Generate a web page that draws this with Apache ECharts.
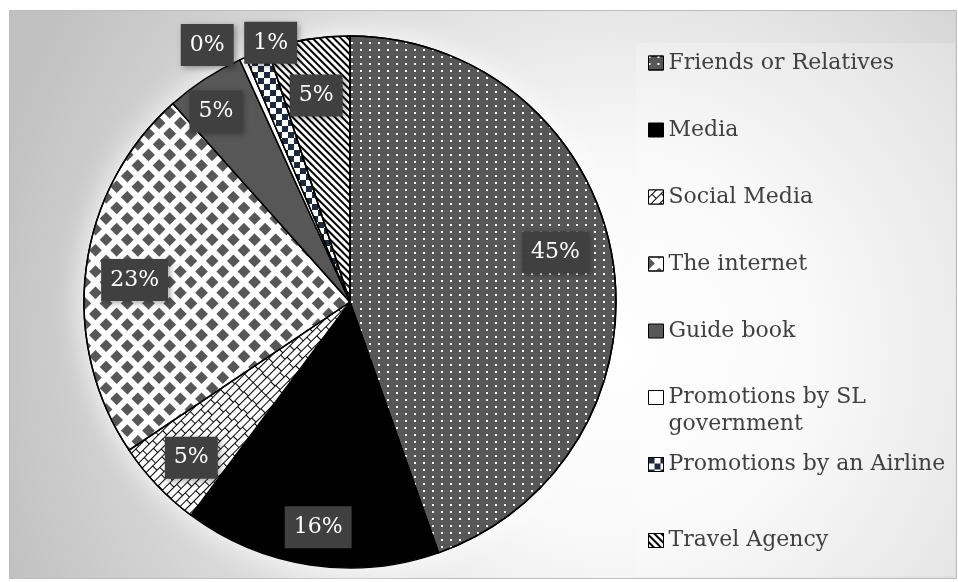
<!DOCTYPE html>
<html>
<head>
<meta charset="utf-8">
<script src="https://cdn.jsdelivr.net/npm/echarts@6/dist/echarts.min.js"></script>
<style>
  html, body { margin: 0; padding: 0; background: #ffffff; }
  #chart { width: 958px; height: 582px; }
</style>
</head>
<body>
<div id="chart"></div>
<script>
// Where visitors first heard about the destination (share of respondents, %)
const categories = [
  'Friends or Relatives',
  'Media',
  'Social Media',
  'The internet',
  'Guide book',
  'Promotions by SL government',
  'Promotions by an Airline',
  'Travel Agency'
];
const shares = [44.6, 15.6, 5.4, 22.8, 4.8, 0.4, 1.4, 5.0];

// ---- layout ----
const CX = 350, CY = 302, R = 266;
const FONT = '"DejaVu Serif", "Liberation Serif", serif';

// label placement per slice: [angle shift from slice middle (deg), distance as fraction of radius]
const labelPlace = [
  [-3.9, 0.795], [-0.6, 0.855], [-0.9, 0.836], [-1.4, 0.814],
  [-2.0, 0.876], [-5.3, 1.105], [3.5, 1.019], [-0.3, 0.787]
];

// hatch / dot patterns for the black-and-white print look
const sliceStyles = [
  { color: '#575757', decal: { symbol: 'rect', color: '#ffffff', symbolSize: 1,
      dashArrayX: [1.6, 6.4], dashArrayY: [2, 4.5] } },
  { color: '#000000' },
  { color: '#000000', decal: { symbol: 'rect', color: '#ffffff', symbolSize: 1,
      dashArrayX: [[12, 1], [5.5, 1, 6.5, 0]], dashArrayY: [5, 1], rotation: -Math.PI / 4 } },
  { color: '#ffffff', decal: { symbol: 'rect', color: '#575757', symbolSize: 1,
      dashArrayX: [9, 6], dashArrayY: [9, 6], rotation: Math.PI / 4 } },
  { color: '#575757' },
  { color: '#ffffff' },
  { color: '#1d2a3c', decal: { symbol: 'rect', color: '#ffffff', symbolSize: 1,
      dashArrayX: [[6, 6], [0, 6, 6, 0]], dashArrayY: [6, 0] } },
  { color: '#ffffff', decal: { symbol: 'rect', color: '#000000', symbolSize: 1,
      dashArrayX: [10, 0], dashArrayY: [1.4, 2.6], rotation: Math.PI / 4 } }
];

const total = shares.reduce((a, b) => a + b, 0);
const midAngles = [];
let acc = 0;
shares.forEach(v => { midAngles.push((acc + v / 2) / total * 360); acc += v; });

const pieData = categories.map((name, i) => ({
  name: name,
  value: shares[i],
  itemStyle: Object.assign({ borderColor: '#000000', borderWidth: 1.5 }, sliceStyles[i])
}));

const legendText = { fontFamily: FONT, fontSize: 22, color: '#404040', lineHeight: 27 };
function legendAt(top, names, extra) {
  return Object.assign({
    orient: 'vertical', left: 648, top: top, padding: 0, itemGap: 40,
    itemWidth: 15, itemHeight: 14, icon: 'rect', selectedMode: false,
    data: names,
    textStyle: legendText,
    itemStyle: { borderColor: '#000000', borderWidth: 1 }
  }, extra || {});
}

const chart = echarts.init(document.getElementById('chart'), null, { renderer: 'canvas' });
chart.setOption({
  animation: false,
  graphic: [
    { type: 'rect', z: -10, silent: true,
      shape: { x: 9.5, y: 10.5, width: 947, height: 568 },
      style: {
        fill: { type: 'radial', x: 0.64, y: 0.6, r: 1.15,
          colorStops: [{ offset: 0, color: '#ffffff' }, { offset: 0.3, color: '#f8f8f8' }, { offset: 1, color: '#c0c0c0' }] },
        stroke: '#bcbcbc', lineWidth: 1
      } },
    { type: 'rect', z: -9, silent: true,
      shape: { x: 636, y: 43, width: 319, height: 533 },
      style: { fill: 'rgba(255,255,255,0.22)' } },
    { type: 'circle', z: -8, silent: true,
      shape: { cx: CX, cy: CY, r: R },
      style: { fill: '#ffffff', shadowBlur: 30, shadowColor: 'rgba(255,255,255,1)' } }
  ],
  legend: [
    legendAt(49.5, categories.slice(0, 5)),
    // wrapped entry: a leading blank line keeps the first text line level with its swatch
    legendAt(357, categories.slice(5, 6), {
      formatter: name => '\n' + name,
      textStyle: Object.assign({ width: 290, overflow: 'break' }, legendText)
    }),
    legendAt(451, categories.slice(6, 7)),
    legendAt(527, categories.slice(7))
  ],
  series: [{
    type: 'pie',
    center: [CX, CY],
    radius: R,
    startAngle: 90,
    clockwise: true,
    percentPrecision: 0,
    avoidLabelOverlap: false,
    data: pieData,
    label: {
      show: true,
      position: 'inside',
      formatter: '{d}%',
      fontFamily: FONT,
      fontSize: 22,
      lineHeight: 26,
      color: '#ffffff',
      backgroundColor: '#404040',
      padding: [8, 9],
      shadowColor: 'rgba(0,0,0,0.35)',
      shadowBlur: 6,
      shadowOffsetX: 2,
      shadowOffsetY: 2
    },
    labelLine: { show: false },
    labelLayout: function (p) {
      const i = p.dataIndex;
      const a = (midAngles[i] + labelPlace[i][0]) * Math.PI / 180;
      const r = R * labelPlace[i][1];
      return { x: CX + r * Math.sin(a), y: CY - r * Math.cos(a), align: 'center', verticalAlign: 'middle' };
    },
    emphasis: { disabled: true }
  }]
});
</script>
</body>
</html>
